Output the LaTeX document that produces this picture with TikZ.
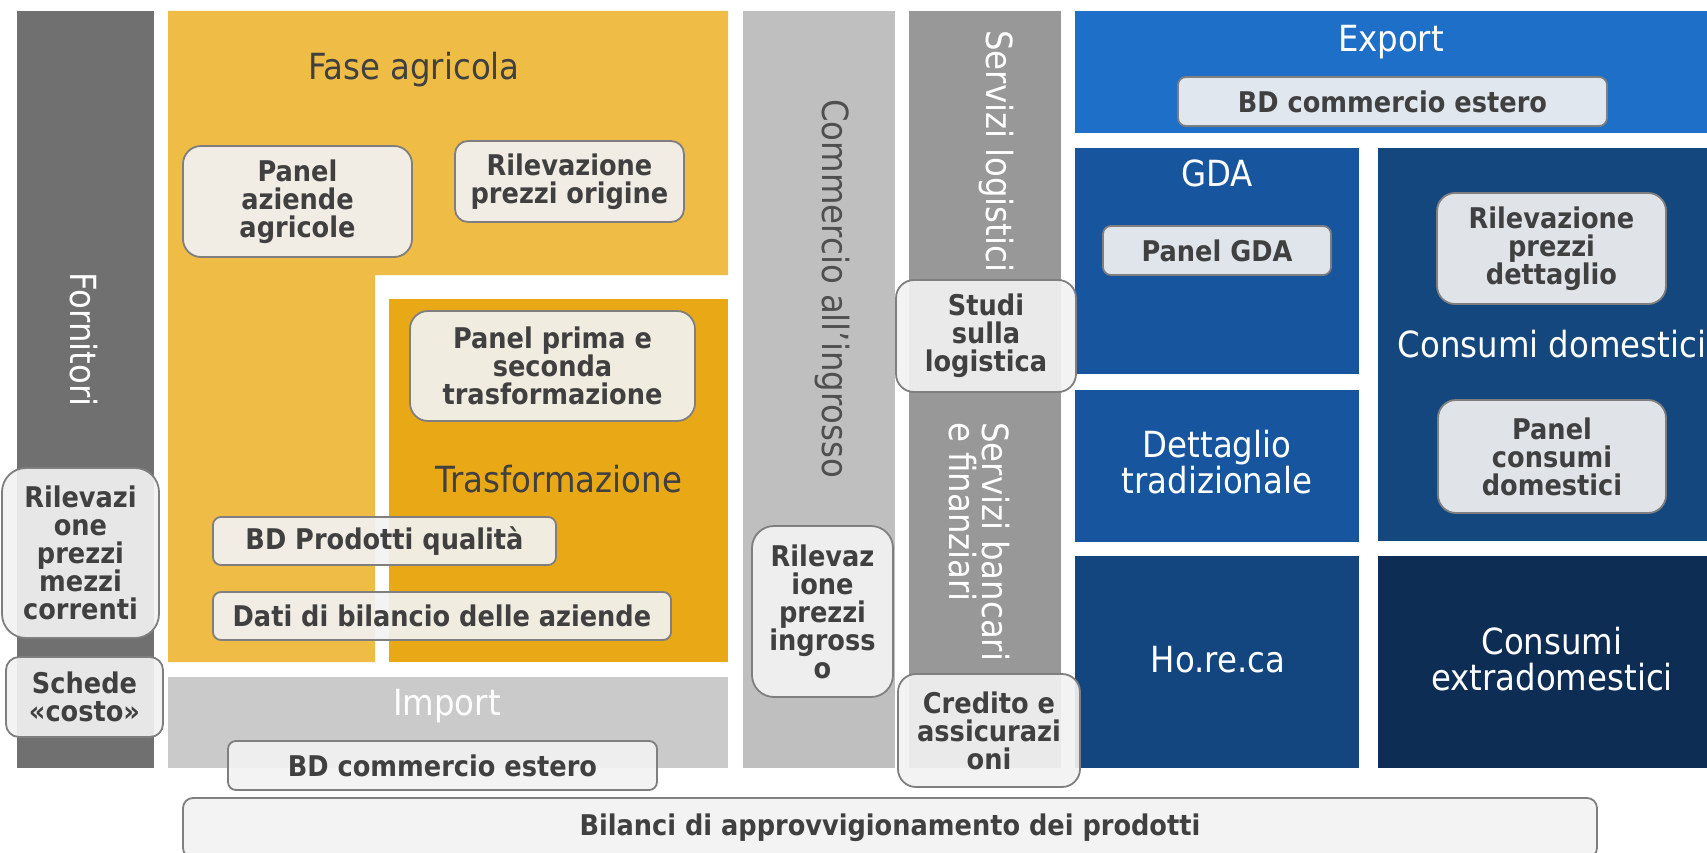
\documentclass[tikz,border=0pt]{standalone}
\usepackage{fontspec}
\setmainfont{DejaVu Sans Condensed}
\definecolor{cforn}{HTML}{707070}
\definecolor{cyel}{HTML}{EFBC46}
\definecolor{corange}{HTML}{E9A816}
\definecolor{cimport}{HTML}{CACACA}
\definecolor{ccomm}{HTML}{BFBFBF}
\definecolor{cserv}{HTML}{989898}
\definecolor{cexport}{HTML}{1E6FC8}
\definecolor{cgda}{HTML}{17569E}
\definecolor{cdom}{HTML}{15477F}
\definecolor{choreca}{HTML}{13457F}
\definecolor{cextra}{HTML}{0E2D55}
\definecolor{boxfill}{HTML}{F2F2F2}
\definecolor{boxline}{HTML}{7F7F7F}
\definecolor{boxtext}{HTML}{404040}
\definecolor{commtext}{HTML}{4F4F4F}
\newcommand\myboxfont{\fontsize{28.5}{28}\selectfont\bfseries}
\newcommand\mytitlefont{\fontsize{36}{36}\selectfont}
\tikzset{
  dbox/.style={draw=boxline, line width=1.8pt, fill=boxfill, fill opacity=0.92,
    text opacity=1, text=boxtext, font=\myboxfont, align=center, inner sep=0pt},
  ttl/.style={font=\mytitlefont, inner sep=0pt},
  ttldark/.style={ttl, text=boxtext},
  ttlwhite/.style={ttl, text=white},
}
\begin{document}
\begin{tikzpicture}[x=1pt,y=-1pt]
\useasboundingbox (0,0) rectangle (1707,853);
% background areas
\fill[cforn] (17,11) rectangle (154,768);
\fill[cyel] (168,11) -- (728,11) -- (728,275) -- (375,275) -- (375,662) -- (168,662) -- cycle;
\fill[corange] (389,299) rectangle (728,662);
\fill[cimport] (168,677) rectangle (728,768);
\fill[ccomm] (743,11) rectangle (895,768);
\fill[cserv] (909,11) rectangle (1061,768);
\fill[cexport] (1075,11) rectangle (1707,133);
\fill[cgda] (1075,148) rectangle (1359,374);
\fill[cgda] (1075,390) rectangle (1359,542);
\fill[choreca] (1075,556) rectangle (1359,768);
\fill[cdom] (1378,148) rectangle (1707,541);
\fill[cextra] (1378,556) rectangle (1707,768);
% titles
\node[ttldark, anchor=base] (tfase) at (414,80) {Fase agricola};
\node[ttldark, anchor=base] (ttrasf) at (559,492) {Trasformazione};
\node[ttlwhite, anchor=base] (timport) at (447,715) {Import};
\node[ttlwhite, anchor=base] (texport) at (1391,52) {Export};
\node[ttlwhite, anchor=base] (tgda) at (1217,187) {GDA};
\node[ttlwhite, anchor=north, align=center] (tdett) at (1217,430) {Dettaglio\\tradizionale};
\node[ttlwhite, anchor=base] (thoreca) at (1218,672) {Ho.re.ca};
\node[ttlwhite, anchor=base] (tdom) at (1552,357) {Consumi domestici};
\node[ttlwhite, anchor=north, align=center] (textra) at (1552,627) {Consumi\\extradomestici};
\node[ttlwhite, anchor=base west, rotate=-90] (tforn) at (70,272) {Fornitori};
\node[ttl, text=commtext, anchor=base west, rotate=-90] (tcomm) at (822,99) {Commercio all’ingrosso};
\node[ttlwhite, anchor=base west, rotate=-90] (tlog) at (986,30) {Servizi logistici};
\node[ttlwhite, anchor=north west, rotate=-90, align=left, font=\fontsize{36}{33}\selectfont] (tbanc) at (1010,422) {Servizi bancari\\e finanziari};
% data boxes
\node[dbox, minimum width=229pt, minimum height=111pt, rounded corners=18pt] (panelaz) at (297.5,201.5) {Panel\\aziende\\agricole};
\node[dbox, minimum width=229pt, minimum height=81pt, rounded corners=13pt] (rilorig) at (569.5,181.5) {Rilevazione\\prezzi origine};
\node[dbox, minimum width=285pt, minimum height=110pt, rounded corners=18pt] (paneltr) at (552.5,366) {Panel prima e\\seconda\\trasformazione};
\node[dbox, minimum width=343pt, minimum height=48pt, rounded corners=8pt] (bdqual) at (384.5,541) {BD Prodotti qualità};
\node[dbox, minimum width=458pt, minimum height=48pt, rounded corners=8pt] (datibil) at (442,616) {Dati di bilancio delle aziende};
\node[dbox, minimum width=157pt, minimum height=170pt, rounded corners=24pt] (rilmezzi) at (80.5,553) {Rilevazi\\one\\prezzi\\mezzi\\correnti};
\node[dbox, minimum width=157pt, minimum height=80pt, rounded corners=13pt] (schede) at (84.5,697) {Schede\\«costo»};
\node[dbox, minimum width=429pt, minimum height=49pt, rounded corners=8pt] (bdimp) at (442.5,765.5) {BD commercio estero};
\node[dbox, minimum width=1414pt, minimum height=60pt, rounded corners=10pt] (bilanci) at (890,828) {Bilanci di approvvigionamento dei prodotti};
\node[dbox, minimum width=141pt, minimum height=171pt, rounded corners=22pt] (rilingr) at (822.5,611.5) {Rilevaz\\ione\\prezzi\\ingross\\o};
\node[dbox, minimum width=180pt, minimum height=112pt, rounded corners=18pt] (studi) at (986,336) {Studi\\sulla\\logistica};
\node[dbox, minimum width=182pt, minimum height=113pt, rounded corners=18pt] (credito) at (989,730.5) {Credito e\\assicurazi\\oni};
\node[dbox, minimum width=429pt, minimum height=49pt, rounded corners=8pt] (bdexp) at (1392.5,101.5) {BD commercio estero};
\node[dbox, minimum width=228pt, minimum height=49pt, rounded corners=8pt] (panelgda) at (1217,250.5) {Panel GDA};
\node[dbox, minimum width=229pt, minimum height=111pt, rounded corners=18pt] (rildett) at (1551.5,248.5) {Rilevazione\\prezzi\\dettaglio};
\node[dbox, minimum width=228pt, minimum height=113pt, rounded corners=18pt] (panelcons) at (1552,456.5) {Panel\\consumi\\domestici};
\end{tikzpicture}
\end{document}
